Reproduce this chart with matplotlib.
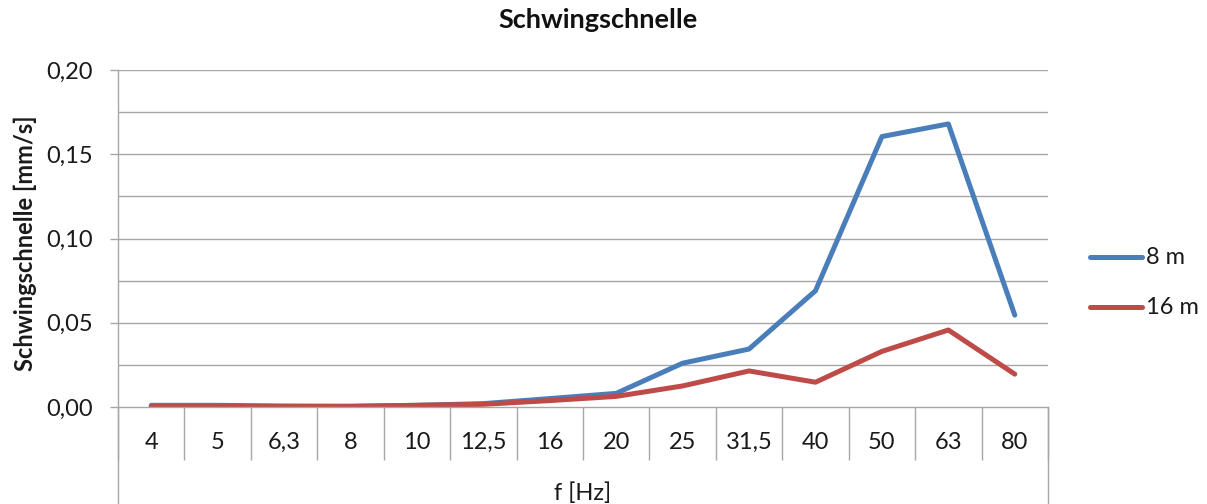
import matplotlib
matplotlib.use("Agg")
import matplotlib.pyplot as plt
from matplotlib.lines import Line2D
import numpy as np

categories = ["4", "5", "6,3", "8", "10", "12,5", "16", "20", "25", "31,5", "40", "50", "63", "80"]
series_8m = [0.0010, 0.0010, 0.0006, 0.0004, 0.0010, 0.0020, 0.0050, 0.0081, 0.0260, 0.0344, 0.0690, 0.1605, 0.1680, 0.0545]
series_16m = [0.0004, 0.0004, 0.0003, 0.0004, 0.0010, 0.0016, 0.0038, 0.0063, 0.0125, 0.0214, 0.0147, 0.0330, 0.0457, 0.0195]
yticks = [0.00, 0.05, 0.10, 0.15, 0.20]
ytick_labels = ["0,00", "0,05", "0,10", "0,15", "0,20"]

plt.rcParams['font.family'] = ['Lato', 'DejaVu Sans']
W, H = 1207, 504
fig = plt.figure(figsize=(W / 100, H / 100), dpi=100)
fig.patch.set_facecolor("white")

x0, x1, ytop, ybot = 118, 1048, 70, 407
ax = fig.add_axes([x0 / W, (H - ybot) / H, (x1 - x0) / W, (ybot - ytop) / H])

grid_c = "#a6a6a6"
txt_c = "#1a1a1a"
fs = 17
x = np.arange(len(categories))
ax.plot(x, series_8m, color="#4A7EBB", lw=3.6, solid_capstyle="round", solid_joinstyle="round", label="8 m", zorder=3)
ax.plot(x, series_16m, color="#BE4B48", lw=3.6, solid_capstyle="round", solid_joinstyle="round", label="16 m", zorder=3)

ax.set_xlim(-0.5, len(categories) - 0.5)
ax.set_ylim(0, 0.20)

for s in ["top", "right", "bottom", "left"]:
    ax.spines[s].set_visible(False)

# grid lines every 0.025
for g in np.arange(0.025, 0.2001, 0.025):
    ax.axhline(g, color=grid_c, lw=1.0, zorder=1)

ax.set_yticks(yticks)
ax.set_yticklabels(ytick_labels)
ax.tick_params(axis="y", direction="out", length=6, width=1, color=grid_c, pad=12, labelsize=fs, labelcolor=txt_c)

ax.set_xticks(np.arange(-0.5, len(categories), 1.0))
ax.set_xticklabels([])
ax.tick_params(axis="x", which="major", direction="out", length=38, width=1, color=grid_c)
ax.set_xticks(x, minor=True)
ax.set_xticklabels(categories, minor=True)
ax.tick_params(axis="x", which="minor", length=0, pad=18, labelsize=fs, labelcolor=txt_c)

# axis lines
fig.add_artist(Line2D([x0 / W, x1 / W], [(H - ybot) / H] * 2, color=grid_c, lw=1.0))
fig.add_artist(Line2D([x0 / W] * 2, [0, (H - ytop) / H], color=grid_c, lw=1.0))
fig.add_artist(Line2D([x1 / W] * 2, [0, (H - ybot) / H], color=grid_c, lw=1.0))

fig.text(598 / W, 1 - 20 / H, "Schwingschnelle", ha="center", va="center", fontsize=19.5, fontweight="bold", color="#111111")
fig.text(25 / W, 1 - 243 / H, "Schwingschnelle [mm/s]", ha="center", va="center", rotation=90, fontsize=17, fontweight="bold", color=txt_c)
fig.text(583 / W, 1 - 493 / H, "f [Hz]", ha="center", va="center", fontsize=fs, color=txt_c)

# legend
for yy, col, lab in [(257, "#4A7EBB", "8 m"), (307, "#BE4B48", "16 m")]:
    fig.add_artist(Line2D([1090 / W, 1142 / W], [1 - yy / H] * 2, color=col, lw=3.6, solid_capstyle="round"))
    fig.text(1146 / W, 1 - yy / H, lab, ha="left", va="center", fontsize=fs, color=txt_c)

fig.savefig("out.png", dpi=100, facecolor="white")
